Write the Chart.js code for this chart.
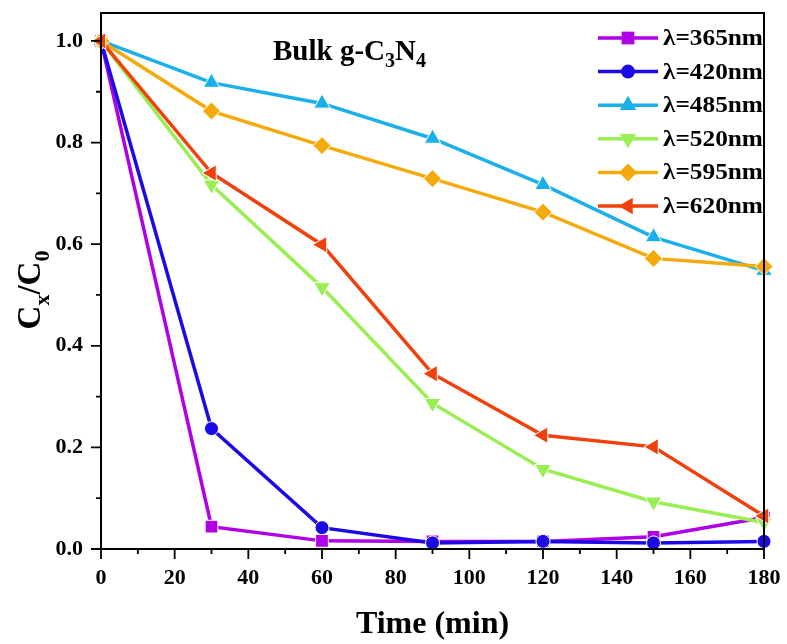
<!DOCTYPE html>
<html lang="en">
<head>
<meta charset="UTF-8">
<title>Bulk g-C3N4</title>
<script src="https://cdn.jsdelivr.net/npm/chart.js"></script>
<style>
  body { margin: 0; background: #ffffff; }
  #wrap { width: 787px; height: 644px; position: relative; }
</style>
</head>
<body>
<div id="wrap"><canvas id="chart" width="787" height="644"></canvas></div>
<script>
// data
const times = [0, 30, 60, 90, 120, 150, 180];
const labels = ['λ=365nm', 'λ=420nm', 'λ=485nm', 'λ=520nm', 'λ=595nm', 'λ=620nm'];
const s365 = [1.0, 0.044, 0.016, 0.015, 0.015, 0.024, 0.062];
const s420 = [1.0, 0.237, 0.042, 0.012, 0.015, 0.012, 0.015];
const s485 = [1.0, 0.918, 0.877, 0.808, 0.717, 0.614, 0.548];
const s520 = [1.0, 0.717, 0.515, 0.287, 0.157, 0.093, 0.052];
const s595 = [1.0, 0.862, 0.794, 0.729, 0.663, 0.572, 0.556];
const s620 = [1.0, 0.740, 0.599, 0.345, 0.224, 0.201, 0.065];
const xTicks = [0, 20, 40, 60, 80, 100, 120, 140, 160, 180];
const yTicks = [0.0, 0.2, 0.4, 0.6, 0.8, 1.0];

const colors = ['#b000e6', '#1c0ae6', '#1cb0ea', '#98ee52', '#f5aa0c', '#f0400c'];
const styles = ['rect', 'circle', 'triangle', 'triangle', 'rectRot', 'triangle'];
const rotations = [0, 0, 0, 180, 0, -90];
const radii = [9, 7, 9.5, 9.5, 9, 9.5];
const series = [s365, s420, s485, s520, s595, s620];

const serif = '"Liberation Serif", "Times New Roman", serif';

const datasets = series.map((s, i) => ({
    label: labels[i],
    data: s.map((v, j) => ({ x: times[j], y: v })),
    borderColor: colors[i],
    backgroundColor: colors[i],
    borderWidth: 3.5,
    pointStyle: styles[i],
    rotation: rotations[i],
    pointRadius: radii[i],
    pointBorderColor: '#ffffff',
    pointBorderWidth: 1,
    pointBackgroundColor: colors[i],
    order: 5 - i,
    clip: false,
}));

// ticks, frame, title, legend
const decorPlugin = {
    id: 'decor',
    afterDraw(chart) {
        const { ctx, chartArea: a, scales } = chart;
        const xs = scales.x, ys = scales.y;
        ctx.save();
        ctx.strokeStyle = '#000';
        ctx.lineWidth = 2;
        ctx.strokeRect(a.left, a.top, a.right - a.left, a.bottom - a.top);
        ctx.lineWidth = 1.8;
        ctx.beginPath();
        for (let v = 0; v <= 180; v += 10) {
            const px = xs.getPixelForValue(v);
            const len = v % 20 === 0 ? 10 : 5;
            ctx.moveTo(px, a.bottom); ctx.lineTo(px, a.bottom + len);
        }
        for (let k = 0; k <= 10; k++) {
            const py = ys.getPixelForValue(k / 10);
            const len = k % 2 === 0 ? 10 : 5;
            ctx.moveTo(a.left, py); ctx.lineTo(a.left - len, py);
        }
        ctx.stroke();

        ctx.fillStyle = '#000';
        ctx.font = 'bold 22px ' + serif;
        ctx.textAlign = 'center';
        ctx.textBaseline = 'top';
        xTicks.forEach(v => ctx.fillText(String(v), xs.getPixelForValue(v), a.bottom + 18));
        ctx.textAlign = 'right';
        ctx.textBaseline = 'middle';
        yTicks.forEach(v => ctx.fillText(v.toFixed(1), a.left - 18, ys.getPixelForValue(v)));

        // axis titles
        ctx.font = 'bold 32px ' + serif;
        ctx.textAlign = 'center';
        ctx.textBaseline = 'alphabetic';
        ctx.fillText('Time (min)', (a.left + a.right) / 2, 633);

        ctx.save();
        ctx.translate(40, 290);
        ctx.rotate(-Math.PI / 2);
        drawSub(ctx, [['C', 0], ['x', 1], ['/C', 0], ['0', 1]], 33, 22, 9, 'center');
        ctx.restore();

        // panel title
        ctx.save();
        ctx.translate(273, 60);
        drawSub(ctx, [['Bulk g-C', 0], ['3', 1], ['N', 0], ['4', 1]], 29, 20, 7, 'left');
        ctx.restore();

        // legend
        chart.data.datasets.forEach((ds, i) => {
            const y = 38 + i * 33.6;
            ctx.strokeStyle = ds.borderColor;
            ctx.lineWidth = 3.5;
            ctx.beginPath();
            ctx.moveTo(598, y); ctx.lineTo(658, y);
            ctx.stroke();
            ctx.fillStyle = ds.backgroundColor;
            Chart.helpers.drawPoint(ctx, {
                pointStyle: ds.pointStyle, rotation: ds.rotation,
                radius: ds.pointRadius, borderWidth: 0
            }, 628, y);
            ctx.save();
            ctx.translate(663, y + 1);
            ctx.scale(1.1, 1);
            ctx.fillStyle = '#000';
            ctx.font = 'bold 23px ' + serif;
            ctx.textAlign = 'left';
            ctx.textBaseline = 'middle';
            ctx.fillText(ds.label, 0, 0);
            ctx.restore();
        });
        ctx.restore();
    }
};

// text with subscripts, parts = [[text, isSub], ...]
function drawSub(ctx, parts, big, small, drop, align) {
    let total = 0;
    parts.forEach(([t, sub]) => {
        ctx.font = 'bold ' + (sub ? small : big) + 'px ' + serif;
        total += ctx.measureText(t).width;
    });
    let x = align === 'center' ? -total / 2 : 0;
    ctx.textAlign = 'left';
    ctx.textBaseline = 'alphabetic';
    ctx.fillStyle = '#000';
    parts.forEach(([t, sub]) => {
        ctx.font = 'bold ' + (sub ? small : big) + 'px ' + serif;
        ctx.fillText(t, x, sub ? drop : 0);
        x += ctx.measureText(t).width;
    });
}

new Chart(document.getElementById('chart').getContext('2d'), {
    type: 'line',
    data: { datasets },
    options: {
        responsive: false,
        animation: false,
        layout: { padding: { top: 13, right: 23, left: 0, bottom: 0 } },
        plugins: { legend: { display: false }, tooltip: { enabled: false } },
        scales: {
            x: {
                type: 'linear', min: 0, max: 180,
                grid: { display: false },
                border: { display: false },
                ticks: { display: false },
                afterFit(s) { s.height = 95; }
            },
            y: {
                type: 'linear', min: 0, max: 1.055,
                grid: { display: false },
                border: { display: false },
                ticks: { display: false },
                afterFit(s) { s.width = 101; }
            }
        }
    },
    plugins: [decorPlugin]
});
</script>
</body>
</html>
